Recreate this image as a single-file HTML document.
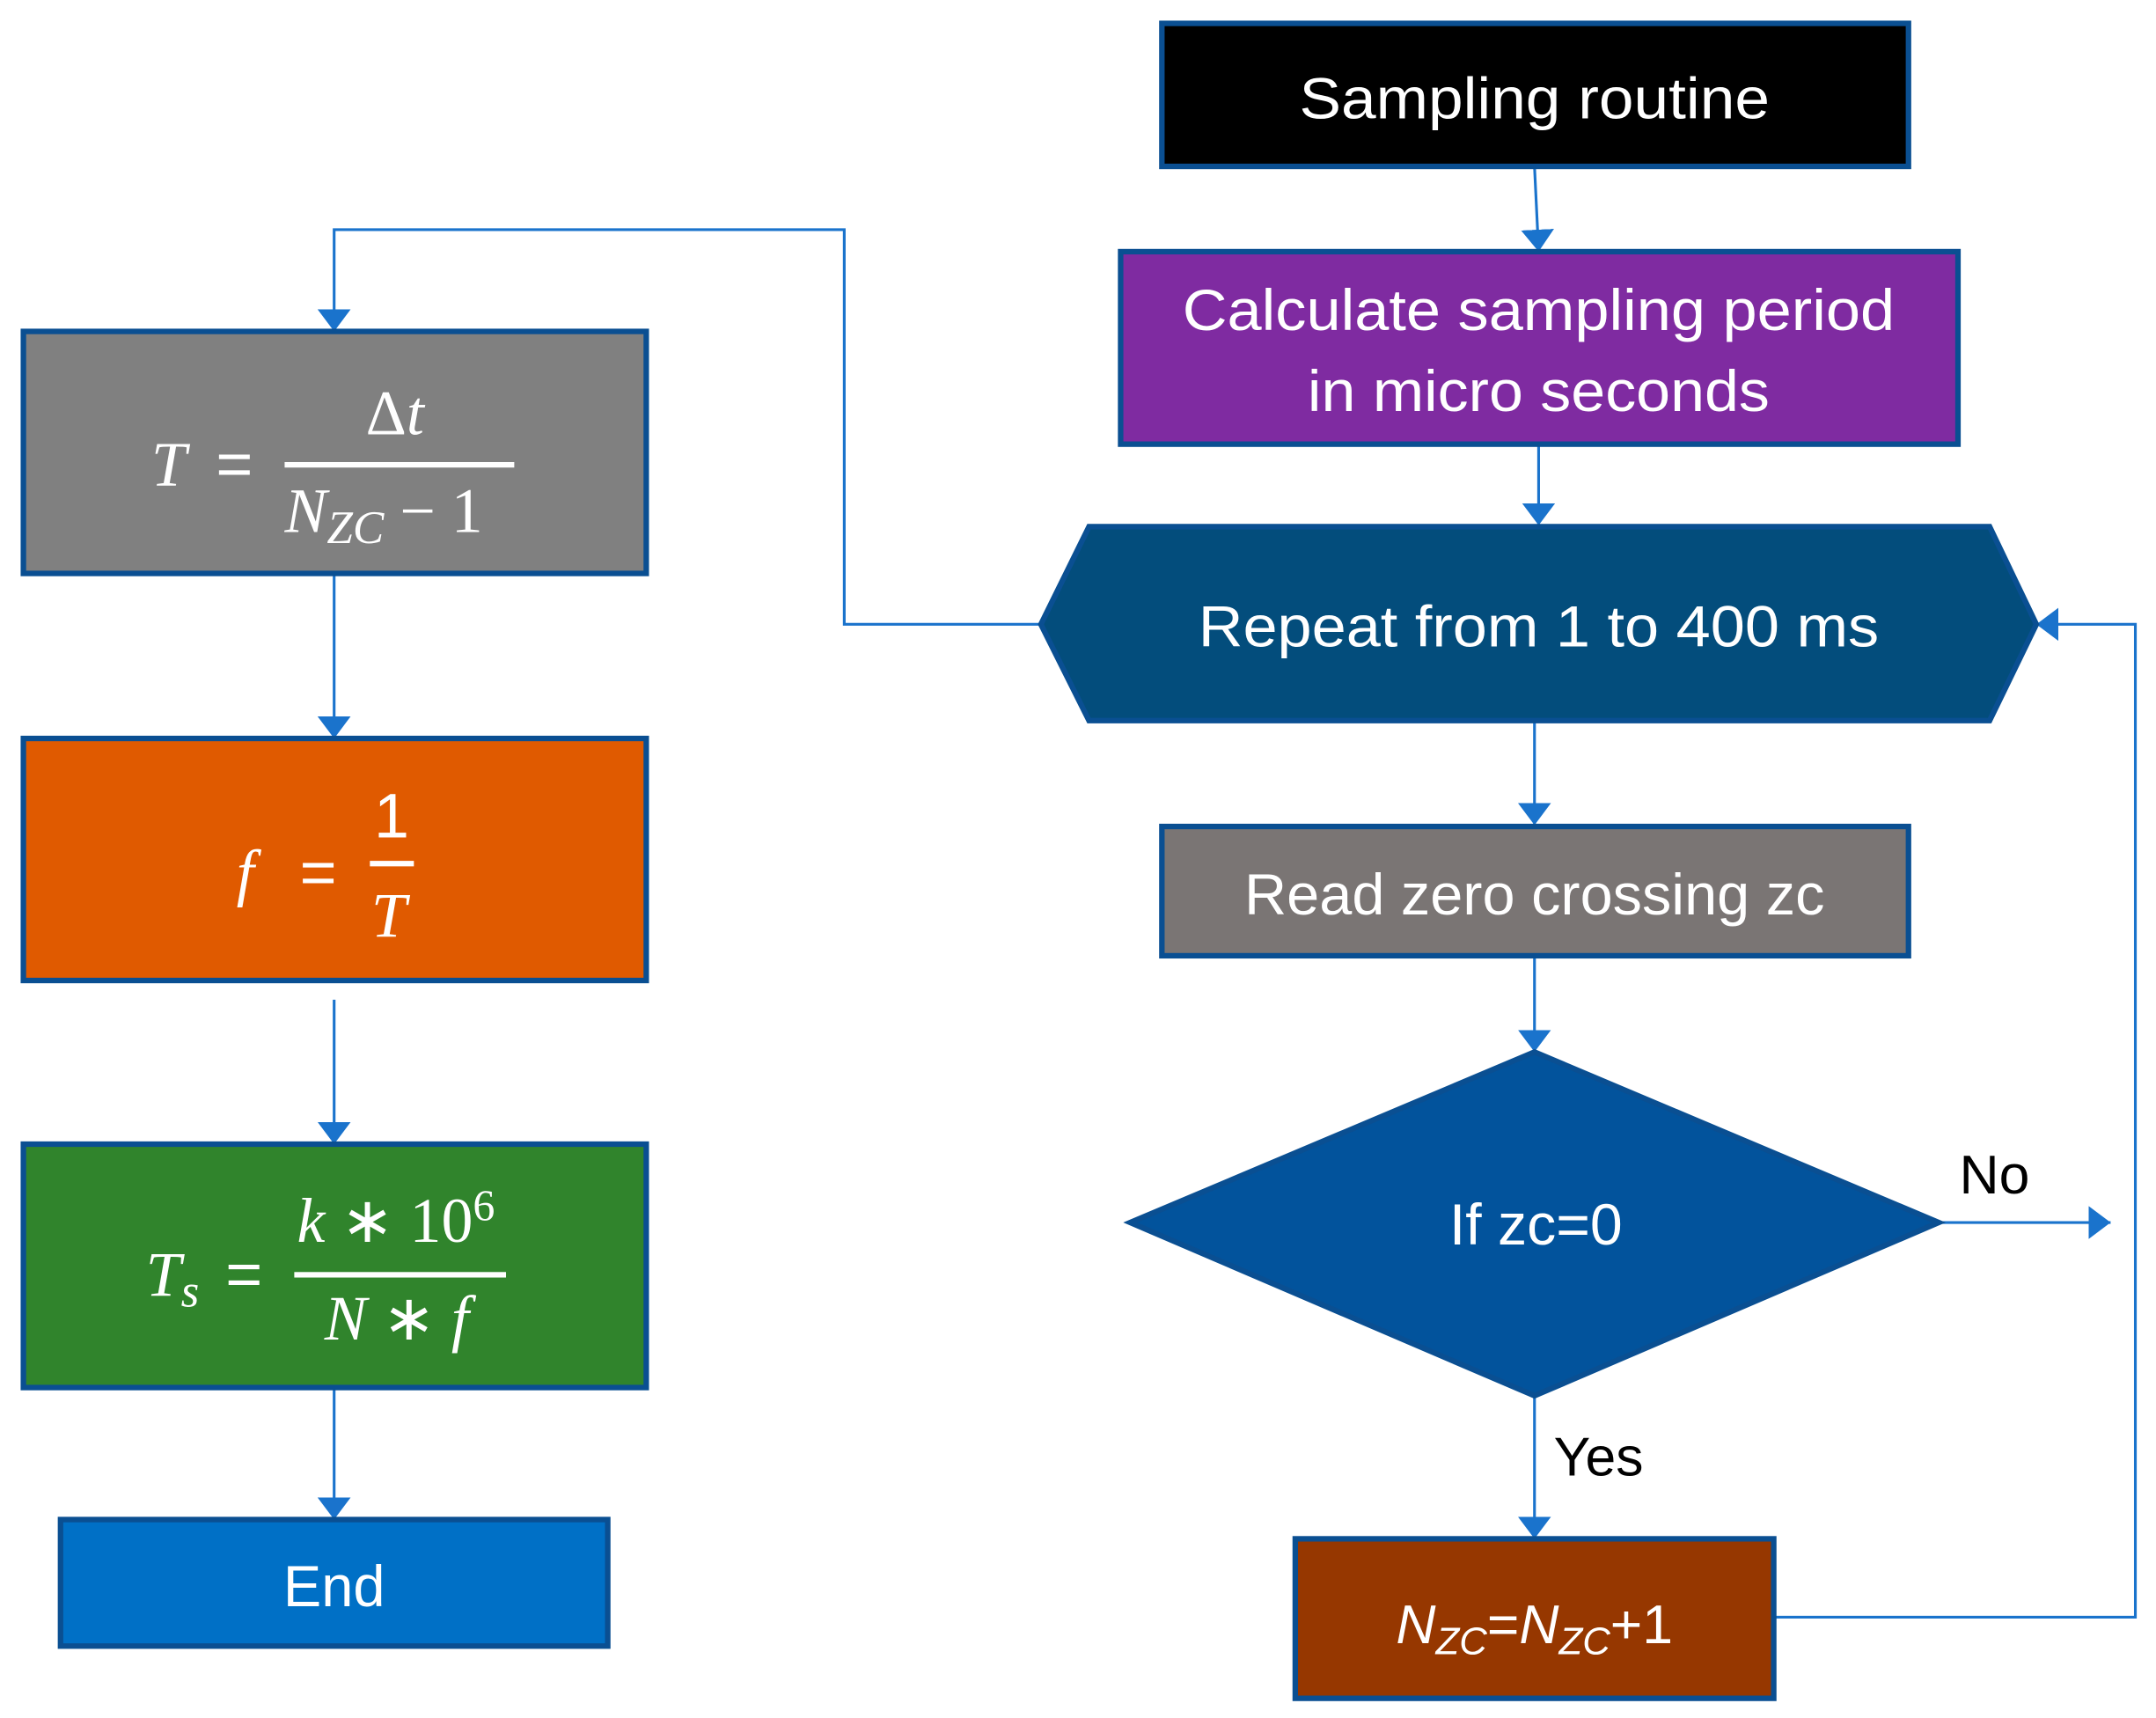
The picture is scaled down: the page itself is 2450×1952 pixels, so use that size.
<!DOCTYPE html>
<html><head><meta charset="utf-8"><style>
html,body{margin:0;padding:0;background:#fff;}
svg{display:block;}
text{font-family:"Liberation Sans",sans-serif;fill:#fff;}
.m{font-family:"Liberation Serif",serif;font-style:italic;}
</style></head><body>
<svg width="2450" height="1952" viewBox="0 0 1568 1249.3" xmlns="http://www.w3.org/2000/svg">
<defs><marker id="a" markerWidth="10" markerHeight="10" refX="9" refY="5" orient="auto" markerUnits="userSpaceOnUse" viewBox="0 0 10 10"><path d="M0,0 L10,5 L0,10z" fill="#1a73cc"/></marker>
<marker id="b" markerWidth="16" markerHeight="24" refX="16" refY="12" orient="auto" markerUnits="userSpaceOnUse" viewBox="0 0 16 24"><path d="M0,0 L16,12 L0,24z" fill="#1a73cc"/></marker></defs>
<g stroke="#1a73cc" stroke-width="2" fill="none" marker-end="url(#b)">
<path d="M1116,121 L1119,183"/>
<path d="M1119,323 L1119,382"/>
<path d="M1116,524 L1116,600"/>
<path d="M1116,695 L1116,765"/>
<path d="M1410,889 L1535,889"/>
<path d="M1116,1015 L1116,1119"/>
<path d="M1290,1176 L1553,1176 L1553,454 L1481,454"/>
<path d="M757,454 L614,454 L614,167 L243,167 L243,241"/>
<path d="M243,417 L243,537"/>
<path d="M243,727 L243,832"/>
<path d="M243,1009 L243,1105"/>
</g>
<g stroke="#0a4f92" stroke-width="4">
<rect x="845" y="17" width="543" height="104" fill="#000"/>
<rect x="815" y="183" width="609" height="140" fill="#7f2ba1"/>
<polygon points="757,454 792,383 1447,383 1481,454 1447,524 792,524" fill="#034d7c"/>
<rect x="845" y="601" width="543" height="94" fill="#7a7574"/>
<polygon points="822,889 1116,765 1410,889 1116,1015" fill="#02539c"/>
<rect x="942" y="1119" width="348" height="116" fill="#963700"/>
<rect x="17" y="241" width="453" height="176" fill="#808080"/>
<rect x="17" y="537" width="453" height="176" fill="#e05a00"/>
<rect x="17" y="832" width="453" height="177" fill="#30842c"/>
<rect x="44" y="1105" width="398" height="92" fill="#0070c6"/>
</g>
<g font-size="42" text-anchor="middle">
<text x="1116" y="86" textLength="342" lengthAdjust="spacingAndGlyphs">Sampling routine</text>
<text x="1119" y="240" textLength="518" lengthAdjust="spacingAndGlyphs">Calculate sampling period</text>
<text x="1119" y="299" textLength="336" lengthAdjust="spacingAndGlyphs">in micro seconds</text>
<text x="1119" y="470" textLength="495" lengthAdjust="spacingAndGlyphs">Repeat from 1 to 400 ms</text>
<text x="1116" y="665" textLength="422" lengthAdjust="spacingAndGlyphs">Read zero crossing zc</text>
<text x="1117" y="905" textLength="126" lengthAdjust="spacingAndGlyphs">If zc=0</text>
<text x="243" y="1168" textLength="74" lengthAdjust="spacingAndGlyphs">End</text>
</g>
<text x="1425" y="868" font-size="40" style="fill:#000">No</text>
<text x="1130" y="1073" font-size="40" style="fill:#000">Yes</text>
<text x="1116" y="1195" font-size="40" text-anchor="middle" font-style="italic">N<tspan font-size="28" dy="8">ZC</tspan><tspan dy="-8" font-style="normal">=</tspan>N<tspan font-size="28" dy="8">ZC</tspan><tspan dy="-8" font-style="normal">+1</tspan></text>
<!-- formula 1 -->
<g font-size="46">
<text class="m" x="110" y="353">T</text>
<text x="157" y="353">=</text>
<rect x="207" y="336" width="167" height="4" fill="#fff"/>
<text class="m" x="266" y="316"><tspan font-style="normal">Δ</tspan>t</text>
<text class="m" x="207" y="387">N<tspan font-size="34" dy="8">ZC</tspan><tspan font-style="normal" dy="-8"> − 1</tspan></text>
<!-- formula 2 -->
<text class="m" x="172" y="650">f</text>
<text x="218" y="650">=</text>
<rect x="269" y="626" width="32" height="4" fill="#fff"/>
<text x="272" y="609">1</text>
<text class="m" x="270" y="681">T</text>
<!-- formula 3 -->
<text class="m" x="106" y="942">T<tspan font-size="34" dy="8">s</tspan></text>
<text x="164" y="942" dy="0">=</text>
<rect x="214" y="925" width="154" height="4" fill="#fff"/>
<text class="m" x="216" y="903">k <tspan font-style="normal">∗ 10</tspan><tspan font-style="normal" font-size="32" dy="-16">6</tspan></text>
<text class="m" x="236" y="974">N <tspan font-style="normal">∗</tspan> f</text>
</g>
</svg>
</body></html>
